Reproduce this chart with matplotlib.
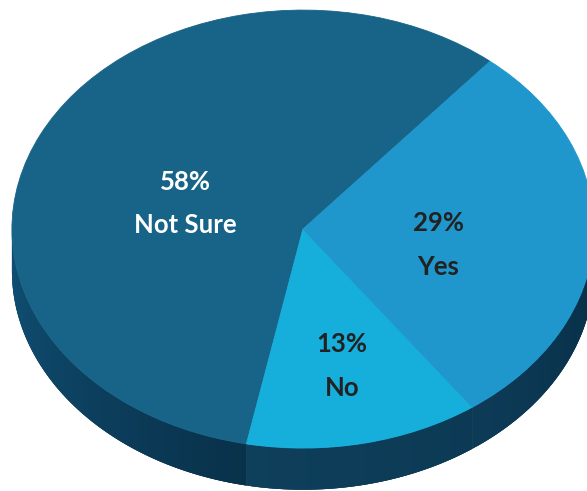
import numpy as np
import matplotlib
matplotlib.use("Agg")
import matplotlib.pyplot as plt
from matplotlib.patches import Polygon
import matplotlib.colors as mcolors

# ----------------------------
# data
# ----------------------------
labels = ["Not Sure", "No", "Yes"]
shares = [58, 13, 29]
top_colors = ["#176488", "#16aedb", "#1f96cc"]
side_from = ["#105176", "#0e3f5b", "#0d3b57"]
side_to = ["#09314a", "#0c3a55", "#072e46"]
text_colors = ["white", "#222222", "#222222"]
label_radius = [0.42, 0.64, 0.47]
label_shift = [9.5, 0.0, -6.5]  # degrees, nudge from the wedge middle

# ----------------------------
# geometry
# ----------------------------
depth = 0.19
start = 50


def side_poly(a, b, n=40):
    th = np.radians(np.linspace(a, b, n))
    xs, ys = np.cos(th), np.sin(th)
    return np.vstack([np.column_stack([xs, ys]),
                      np.column_stack([xs[::-1], ys[::-1] - depth])])


fig = plt.figure(figsize=(5.87, 4.91), dpi=100)
ax = fig.add_axes([0, 0, 1, 1])

# top face
wedges, _ = ax.pie(shares, startangle=start, counterclock=True,
                   colors=top_colors, radius=1.0,
                   wedgeprops=dict(linewidth=0.6, zorder=3))
for w, c in zip(wedges, top_colors):
    w.set_edgecolor(c)

# side wall (only the front half is visible)
for w, c0, c1 in zip(wedges, side_from, side_to):
    t1, t2 = w.theta1 % 360, w.theta2 % 360
    if t2 <= t1:
        t2 += 360
    a = max(t1, 180)
    b = min(t2, 360)
    if b <= a:
        continue
    ca = np.array(mcolors.to_rgb(c0))
    cb = np.array(mcolors.to_rgb(c1))
    # base underneath so strip seams do not show
    ax.add_patch(Polygon(side_poly(a, b, 120), closed=True,
                         facecolor=(ca + cb) / 2, edgecolor="none", zorder=1))
    edges = np.linspace(a, b, int((b - a) / 1.0) + 2)
    for k in range(len(edges) - 1):
        hi = min(edges[k + 1] + 1.0, b)
        f = (k + 0.5) / (len(edges) - 1)
        col = ca * (1 - f) + cb * f
        ax.add_patch(Polygon(side_poly(edges[k], hi, 4), closed=True,
                             facecolor=col, edgecolor="none", zorder=2))

# labels
for w, lab, s, tc, r, sh in zip(wedges, labels, shares, text_colors,
                                label_radius, label_shift):
    mid = np.radians((w.theta1 + w.theta2) / 2 + sh)
    x, y = r * np.cos(mid), r * np.sin(mid)
    ax.text(x, y + 0.1, f"{s}%", ha="center", va="center", color=tc,
            fontsize=18.5, fontweight="bold", family="Lato", zorder=5)
    ax.text(x, y - 0.1, lab, ha="center", va="center", color=tc,
            fontsize=18.5, fontweight="bold", family="Lato", zorder=5)

ax.set_aspect("auto")
ax.set_xlim(-1.041, 0.976)
ax.set_ylim(-1.196, 1.046)
ax.set_axis_off()

fig.savefig("out.png", dpi=100)
